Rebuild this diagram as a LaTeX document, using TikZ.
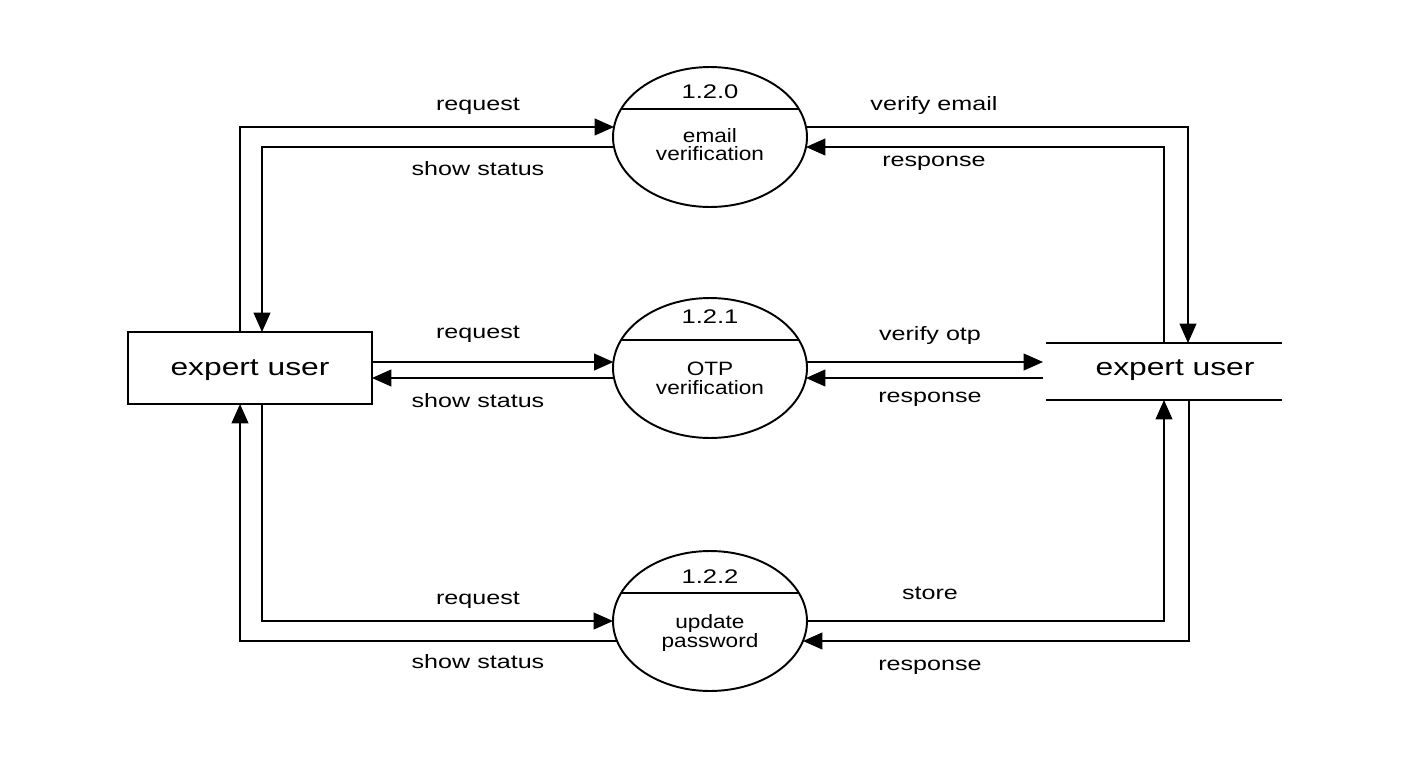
\documentclass[tikz,border=0pt]{standalone}
\usepackage{fontspec}
\setmainfont[FakeStretch=1.3]{Liberation Sans}
\newfontfamily\ptfont[FakeStretch=1.17]{Liberation Sans}
\usetikzlibrary{arrows.meta,shapes.geometric}
\begin{document}
\begin{tikzpicture}[x=0.02cm,y=-0.02cm,
  flow/.style={line width=1.1pt,-{Triangle[length=11pt,width=9.5pt]}},
  proc/.style={ellipse,draw,line width=1.1pt,minimum width=3.88cm,minimum height=2.8cm,inner sep=0pt,outer sep=0pt},
  ent/.style={rectangle,draw,line width=1.1pt,minimum width=4.88cm,minimum height=1.44cm,inner sep=0pt,outer sep=0pt},
  store/.style={rectangle,minimum width=4.72cm,minimum height=1.14cm,inner sep=0pt,outer sep=0pt},
  etxt/.style={inner sep=0pt,anchor=base,font=\fontsize{13.9}{16}\selectfont},
  lbl/.style={inner sep=0pt,anchor=base,font=\fontsize{11}{13}\selectfont},
  num/.style={inner sep=0pt,anchor=base,font=\fontsize{11.2}{13}\selectfont},
  ptxt/.style={inner sep=0pt,anchor=base,font=\ptfont\fontsize{11}{13}\selectfont},
  div/.style={line width=1.1pt}]
\useasboundingbox (0,0) rectangle (1411,758);
\fill[white] (0,0) rectangle (1411,758);

% entities
\node[ent] (u1) at (250,368) {};
\node[etxt] (u1t) at (250,375) {expert user};
\node[store] (u2) at (1164,371.5) {};
\node[etxt] (u2t) at (1175,375) {expert user};
\draw[div] (u2.north west) -- (u2.north east);
\draw[div] (u2.south west) -- (u2.south east);
\coordinate (s1) at ([xshift=-0.06cm]u2.west);

% processes
\node[proc] (e0) at (710,137) {};
\node[proc] (e1) at (710,368) {};
\node[proc] (e2) at (710,621) {};
\draw[div] ([shift={(-89,-28)}]e0.center) -- ([shift={(89,-28)}]e0.center);
\draw[div] ([shift={(-89,-28)}]e1.center) -- ([shift={(89,-28)}]e1.center);
\draw[div] ([shift={(-89,-28)}]e2.center) -- ([shift={(89,-28)}]e2.center);
\node[num] (n0) at (710,98) {1.2.0};
\node[num] (n1) at (710,323) {1.2.1};
\node[num] (n2) at (710,583) {1.2.2};
\node[ptxt] (t0a) at (710,142) {email};
\node[ptxt] (t0b) at (710,160) {verification};
\node[ptxt] (t1a) at (710,375) {OTP};
\node[ptxt] (t1b) at (710,394) {verification};
\node[ptxt] (t2a) at (710,628) {update};
\node[ptxt] (t2b) at (710,647) {password};

% anchor points on the process borders
\coordinate (a0l1) at ([shift={(-96,-10)}]e0.center);
\coordinate (a0l2) at ([shift={(-96,10)}]e0.center);
\coordinate (a0r1) at ([shift={(96,-10)}]e0.center);
\coordinate (a0r2) at ([shift={(96,10)}]e0.center);
\coordinate (a1l1) at ([shift={(-96.6,-6)}]e1.center);
\coordinate (a1l2) at ([shift={(-96,10)}]e1.center);
\coordinate (a1r1) at ([shift={(96.6,-6)}]e1.center);
\coordinate (a1r2) at ([shift={(96,10)}]e1.center);
\coordinate (a2l1) at ([shift={(-97,0)}]e2.center);
\coordinate (a2l2) at ([shift={(-93,20)}]e2.center);
\coordinate (a2r1) at ([shift={(97,0)}]e2.center);
\coordinate (a2r2) at ([shift={(93,20)}]e2.center);

% top flows
\draw[flow] ([xshift=-0.2cm]u1.north) |- (a0l1);
\draw[flow] (a0l2) -| ([xshift=0.24cm]u1.north);
\draw[flow] (a0r1) -| ([xshift=0.48cm]u2.north);
\draw[flow] (u2.north) |- (a0r2);

% middle flows
\draw[flow] (u1.east |- a1l1) -- (a1l1);
\draw[flow] (a1l2) -- (u1.east |- a1l2);
\draw[flow] (a1r1) -- (s1 |- a1r1);
\draw[flow] (s1 |- a1r2) -- (a1r2);

% bottom flows
\draw[flow] ([xshift=0.24cm]u1.south) |- (a2l1);
\draw[flow] (a2l2) -| ([xshift=-0.2cm]u1.south);
\draw[flow] (a2r1) -| (u2.south);
\draw[flow] ([xshift=0.5cm]u2.south) |- (a2r2);

% labels
\node[lbl] (l1) at (478,110) {request};
\node[lbl] (l2) at (478,175) {show status};
\node[lbl] (l3) at (934,110) {verify email};
\node[lbl] (l4) at (934,166) {response};
\node[lbl] (l5) at (478,338) {request};
\node[lbl] (l6) at (478,407) {show status};
\node[lbl] (l7) at (930,340) {verify otp};
\node[lbl] (l8) at (930,402) {response};
\node[lbl] (l9) at (478,604) {request};
\node[lbl] (l10) at (478,668) {show status};
\node[lbl] (l11) at (930,599) {store};
\node[lbl] (l12) at (930,670) {response};
\end{tikzpicture}
\end{document}
